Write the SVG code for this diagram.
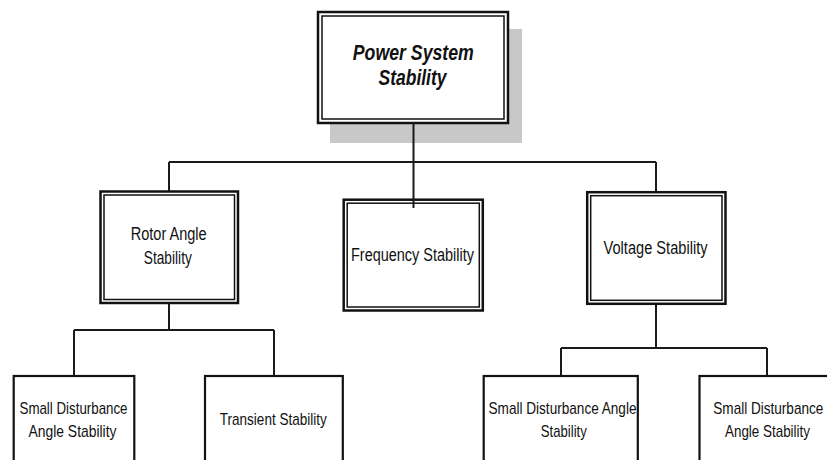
<svg xmlns="http://www.w3.org/2000/svg" width="827" height="460" viewBox="0 0 827 460">
<style>
.bg{fill:#ffffff}
.outer{fill:#ffffff;stroke:#111;stroke-width:2.5}
.inner{fill:none;stroke:#111;stroke-width:1.5}
.single{fill:#ffffff;stroke:#111;stroke-width:2.2}
.shadow{fill:#c8c8c8}
.conn{fill:none;stroke:#1a1a1a;stroke-width:2}
text{font-family:"Liberation Sans",Arial,sans-serif;fill:#111;text-anchor:middle}
.t{font-size:17.5px}
.b{font-size:17px}
.title{font-size:22px;font-weight:bold;font-style:italic}
</style>
<rect class="bg" x="0" y="0" width="827" height="460"/>

<g id="root">
  <rect class="shadow" x="330" y="29" width="192" height="114"/>
  <rect class="outer" x="318" y="12" width="190" height="111"/>
  <rect class="inner" x="322" y="16" width="182" height="103"/>
  <text class="title" x="413.3" y="59.5" textLength="121" lengthAdjust="spacingAndGlyphs">Power System</text>
  <text class="title" x="412.5" y="85" textLength="68" lengthAdjust="spacingAndGlyphs">Stability</text>
</g>

<g id="connectors">
  <path class="conn" d="M413.5,123 V208"/>
  <path class="conn" d="M169,162 H656"/>
  <path class="conn" d="M169,162 V191"/>
  <path class="conn" d="M656,162 V192"/>
  <path class="conn" d="M169,303 V330"/>
  <path class="conn" d="M74,330 H274"/>
  <path class="conn" d="M74,330 V376"/>
  <path class="conn" d="M274,330 V376"/>
  <path class="conn" d="M656,304 V348"/>
  <path class="conn" d="M561,348 H767"/>
  <path class="conn" d="M561,348 V376"/>
  <path class="conn" d="M767,348 V376"/>
</g>

<g id="rotor">
  <rect class="outer" x="100.5" y="191.5" width="137.5" height="111.5"/>
  <rect class="inner" x="104" y="195" width="130.5" height="104.5"/>
  <text class="t" x="168.7" y="240" textLength="76" lengthAdjust="spacingAndGlyphs">Rotor Angle</text>
  <text class="t" x="167.8" y="264" textLength="48" lengthAdjust="spacingAndGlyphs">Stability</text>
</g>

<g id="frequency">
  <rect class="outer" x="343.7" y="199.7" width="139.1" height="110.8"/>
  <rect class="inner" x="347.2" y="203.2" width="132.1" height="103.8"/>
  <path class="conn" d="M413.5,199 V208"/>
  <text class="t" x="412.5" y="261" textLength="123" lengthAdjust="spacingAndGlyphs">Frequency Stability</text>
</g>

<g id="voltage">
  <rect class="outer" x="587.2" y="192.2" width="138.3" height="111.6"/>
  <rect class="inner" x="590.7" y="195.7" width="131.3" height="104.6"/>
  <text class="t" x="655.5" y="254" textLength="104" lengthAdjust="spacingAndGlyphs">Voltage Stability</text>
</g>

<g id="small-disturbance-left">
  <rect class="single" x="13.7" y="376" width="120.6" height="110"/>
  <text class="b" x="73.5" y="414" textLength="108" lengthAdjust="spacingAndGlyphs">Small Disturbance</text>
  <text class="b" x="72.5" y="437" textLength="88" lengthAdjust="spacingAndGlyphs">Angle Stability</text>
</g>

<g id="transient">
  <rect class="single" x="205" y="376" width="137.8" height="110"/>
  <text class="b" x="273.3" y="425" textLength="107" lengthAdjust="spacingAndGlyphs">Transient Stability</text>
</g>

<g id="small-disturbance-mid">
  <rect class="single" x="483.7" y="376" width="154.1" height="110"/>
  <text class="b" x="562.5" y="414" textLength="148" lengthAdjust="spacingAndGlyphs">Small Disturbance Angle</text>
  <text class="b" x="563.8" y="437" textLength="46" lengthAdjust="spacingAndGlyphs">Stability</text>
</g>

<g id="small-disturbance-right">
  <rect class="single" x="699.5" y="376" width="150" height="110"/>
  <text class="b" x="768.3" y="414" textLength="110" lengthAdjust="spacingAndGlyphs">Small Disturbance</text>
  <text class="b" x="767.5" y="437" textLength="85" lengthAdjust="spacingAndGlyphs">Angle Stability</text>
</g>
</svg>
